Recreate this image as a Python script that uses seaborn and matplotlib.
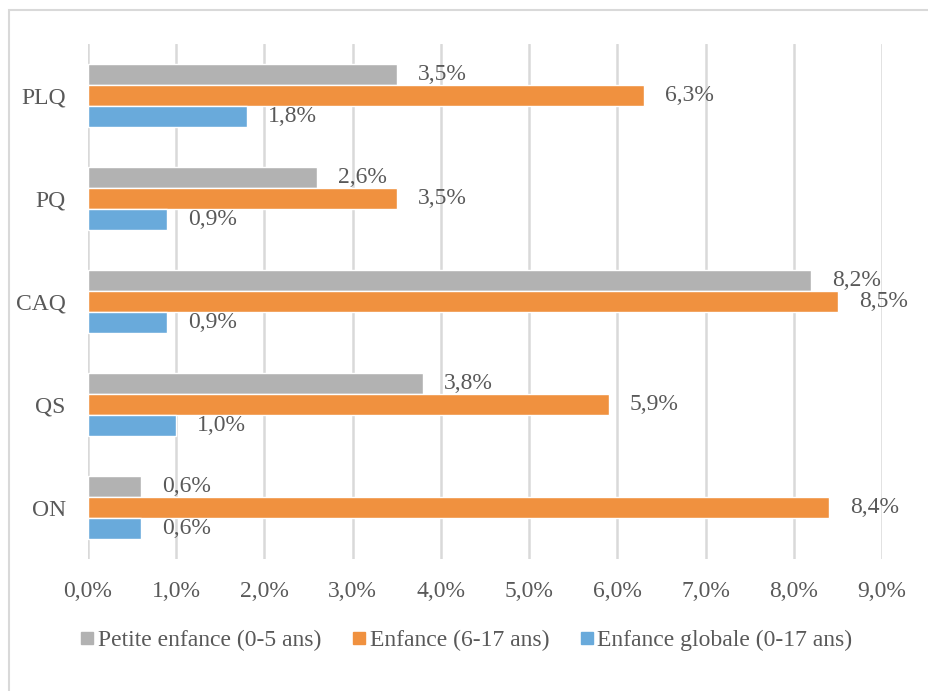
import pandas as pd
import matplotlib.pyplot as plt
import seaborn as sns
from matplotlib.patches import Rectangle
from matplotlib.lines import Line2D

sns.set_theme(style="white")
plt.rcParams['font.family'] = ['Liberation Serif', 'DejaVu Serif']

# données
partis = ['PLQ', 'PQ', 'CAQ', 'QS', 'ON']
series = ['Petite enfance (0-5 ans)', 'Enfance (6-17 ans)', 'Enfance globale (0-17 ans)']
petite_enfance = [3.5, 2.6, 8.2, 3.8, 0.6]
enfance = [6.3, 3.5, 8.5, 5.9, 8.4]
enfance_globale = [1.8, 0.9, 0.9, 1.0, 0.6]
couleurs = ['#B2B2B2', '#F0913F', '#69AADB']
texte = '#595959'

df = pd.DataFrame({
    'Parti': partis * 3,
    'Groupe': [s for s in series for _ in partis],
    'Valeur': petite_enfance + enfance + enfance_globale,
})

fig = plt.figure(figsize=(9.29, 6.91), dpi=100)
fig.patches.append(Rectangle((9 / 929, -0.05), 1.0, 1 - 10 / 691 + 0.05,
                             transform=fig.transFigure, fill=False,
                             edgecolor='#D9D9D9', linewidth=1.5))
ax = fig.add_axes([88 / 929, 1 - 559 / 691, (882 - 88) / 929, (559 - 44) / 691])

sns.barplot(data=df, y='Parti', x='Valeur', hue='Groupe', order=partis,
            hue_order=series, palette=couleurs, orient='h', width=0.62,
            saturation=1, legend=False, ax=ax, zorder=3)

for cont, vals in zip(ax.containers, [petite_enfance, enfance, enfance_globale]):
    ax.bar_label(cont, labels=[f"{v:.1f}%".replace('.', ',') for v in vals],
                 padding=15, fontsize=17, color=texte)

ax.set_xlim(0, 9)
ax.set_xticks(range(10))
ax.set_xticklabels([f"{i},0%" for i in range(10)])
ax.tick_params(axis='x', length=0, pad=16, labelsize=17, labelcolor=texte)
ax.tick_params(axis='y', length=0, pad=16, labelsize=17, labelcolor=texte)
ax.grid(axis='x', color='#D9D9D9', linewidth=1.8, zorder=0)
ax.set_axisbelow(True)
for s in ax.spines.values():
    s.set_visible(False)
ax.set_xlabel('')
ax.set_ylabel('')

handles = [Line2D([], [], marker='s', linestyle='', markersize=8.5,
                  markerfacecolor=c, markeredgecolor=c) for c in couleurs]
leg = fig.legend(handles, series, loc='center', bbox_to_anchor=(0.502, 1 - 640 / 691),
                 ncol=3, frameon=False, fontsize=17, handlelength=0.6,
                 handletextpad=0.15, columnspacing=1.3)
for t in leg.get_texts():
    t.set_color(texte)

fig.savefig('out.png', dpi=100)
